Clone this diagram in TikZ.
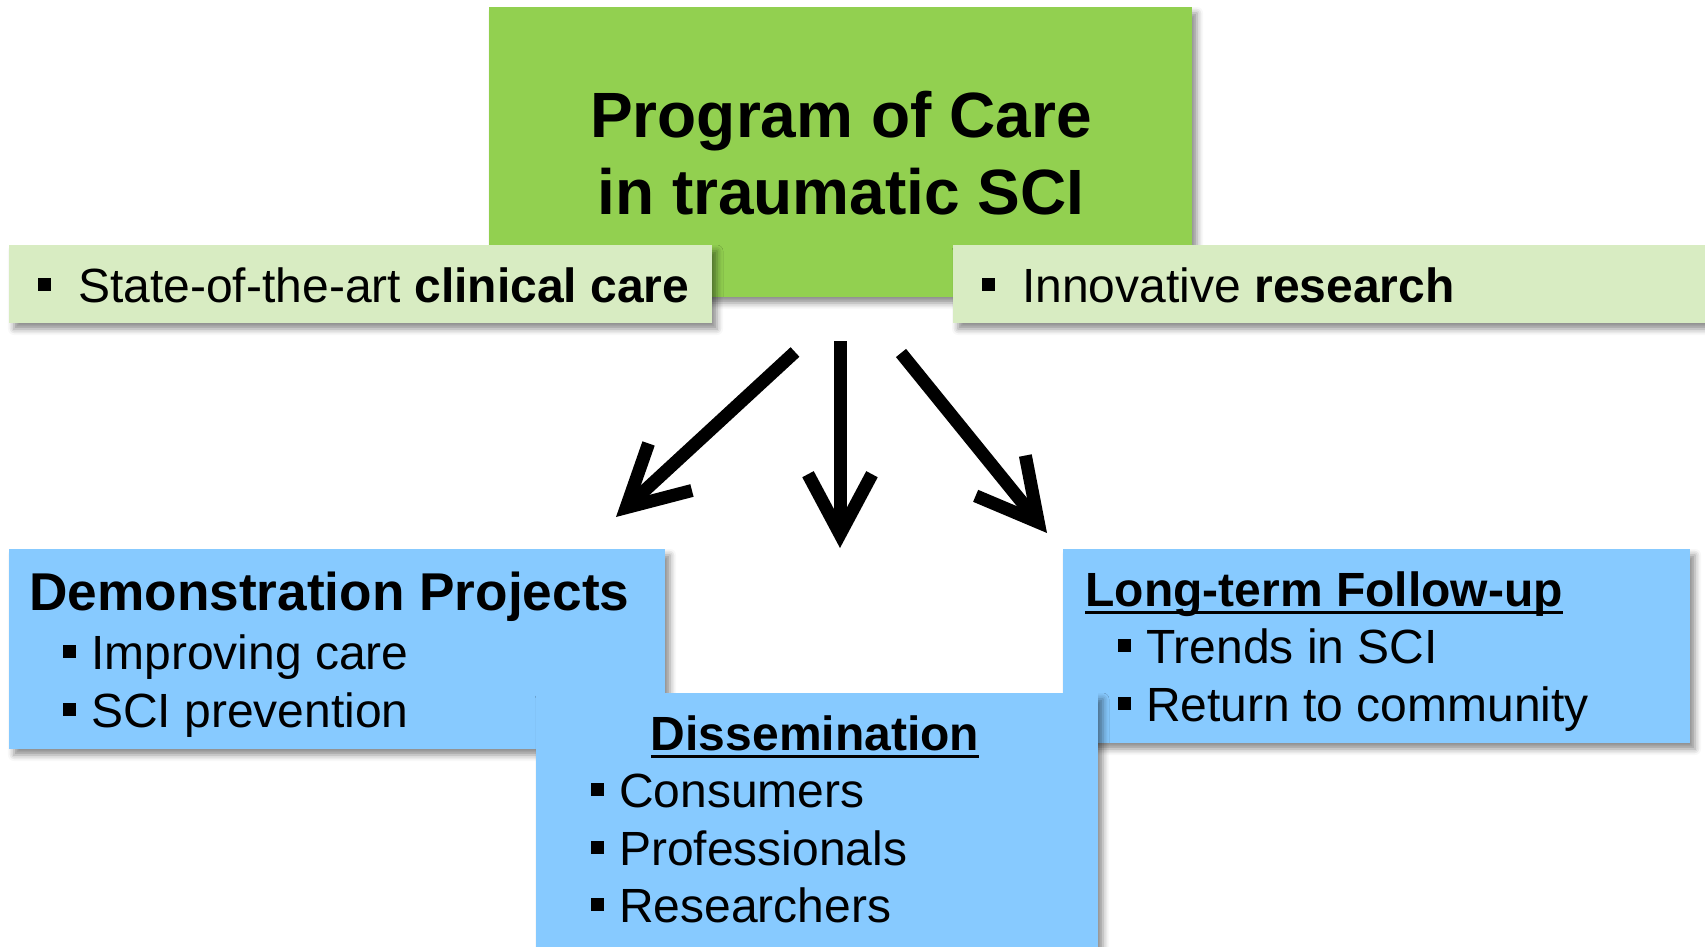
\documentclass[tikz,border=0pt]{standalone}
\usepackage{fontspec}
\setmainfont{Liberation Sans}
\usetikzlibrary{arrows.meta,fit,shadows.blur}

\definecolor{progGreen}{RGB}{146,208,80}
\definecolor{barGreen}{RGB}{216,236,194}
\definecolor{boxBlue}{RGB}{135,202,255}

% square bullet, set in a box of the given width
\newcommand{\sq}[1][0.58em]{\makebox[#1][l]{\rule[0.23em]{0.27em}{0.27em}}}
% heavy underline
\newsavebox{\ulbox}
\newcommand{\uln}[1]{\sbox{\ulbox}{#1}\rlap{\rule[-4pt]{\wd\ulbox}{1.5pt}}\usebox{\ulbox}}

\tikzset{
  box/.style={inner sep=0pt, blur shadow={shadow xshift=2.5pt, shadow yshift=-3pt,
      shadow blur radius=3pt, shadow opacity=45}},
  txt/.style={anchor=base west, inner sep=0pt, font=\fontsize{24}{29}\selectfont},
  hd/.style={txt, font=\fontsize{24}{29}\selectfont\bfseries},
  bigarrow/.style={line width=6.5pt, -{Straight Barb[length=30pt,width=32pt,sharp]}}
}

\begin{document}
\begin{tikzpicture}[x=0.5pt,y=-0.5pt]
  \useasboundingbox (0,0) rectangle (1705,947);

  % program box with the two bars over it
  \node[box, fill=progGreen, fit={(489,7) (1192,297)}] (prog) {};
  \node[anchor=base, inner sep=0pt, font=\fontsize{32}{38}\selectfont\bfseries] (progA) at (841,138) {Program of Care};
  \node[anchor=base, inner sep=0pt, font=\fontsize{32}{38}\selectfont\bfseries] (progB) at (841,215) {in traumatic SCI};

  \node[box, fill=barGreen, fit={(9,245) (712,323)}] (clin) {};
  \node[txt] (clintext) at (38,302) {\sq[0.83em]State-of-the-art \textbf{clinical care}};
  \node[box, fill=barGreen, fit={(953,245) (1715,323)}] (res) {};
  \node[txt] (restext) at (982,302) {\sq[0.83em]Innovative \textbf{research}};

  % arrows
  \coordinate (fromL) at (795,352);
  \coordinate (toL) at (616,517);
  \coordinate (fromM) at (840,341);
  \coordinate (toM) at (840,548);
  \coordinate (fromR) at (901,353);
  \coordinate (toR) at (1047,533);
  \draw[bigarrow] (fromL) -- (toL);
  \draw[bigarrow] (fromM) -- (toM);
  \draw[bigarrow] (fromR) -- (toR);

  % lower boxes
  \node[box, fill=boxBlue, fit={(9,549) (665,749)}] (demo) {};
  \node[hd, font=\fontsize{26.6}{31}\selectfont\bfseries] (demohd) at (29,610) {Demonstration Projects};
  \node[txt] (demoA) at (63,669) {\sq Improving care};
  \node[txt] (demoB) at (63,727) {\sq SCI prevention};

  \node[box, fill=boxBlue, fit={(1063,549) (1690,743)}] (follow) {};
  \node[hd] (followhd) at (1085,606) {\uln{Long-term Follow-up}};
  \node[txt] (followA) at (1118,663) {\sq Trends in SCI};
  \node[txt] (followB) at (1118,721) {\sq Return to community};

  \node[box, fill=boxBlue, fit={(536,693) (1098,960)}] (diss) {};
  \node[hd, anchor=base] (disshd) at (815,750) {\uln{Dissemination}};
  \node[txt] (dissA) at (591,807) {\sq Consumers};
  \node[txt] (dissB) at (591,865) {\sq Professionals};
  \node[txt] (dissC) at (591,922) {\sq Researchers};
\end{tikzpicture}
\end{document}
